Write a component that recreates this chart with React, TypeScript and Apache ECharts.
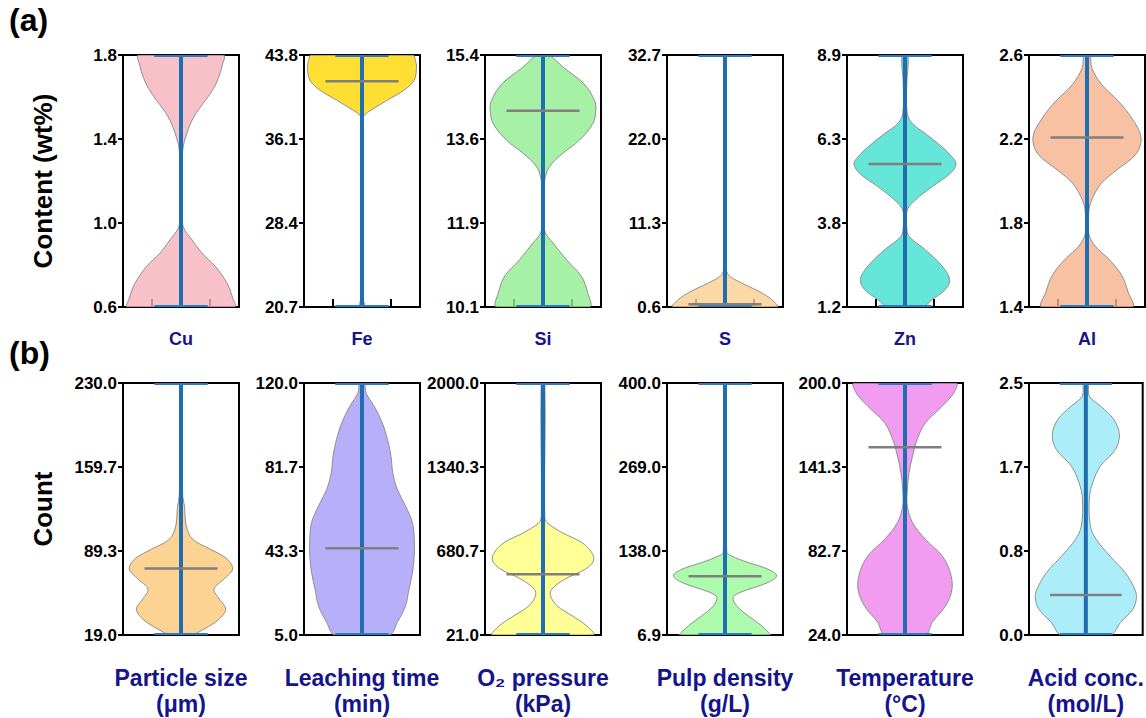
import React, { useEffect, useRef } from 'react';
import * as echarts from 'echarts';

// ---------- data ----------
const rowACategories = ['Cu', 'Fe', 'Si', 'S', 'Zn', 'Al'];
const rowBCategories = [
  'Particle size\n(μm)',
  'Leaching time\n(min)',
  'O₂ pressure\n(kPa)',
  'Pulp density\n(g/L)',
  'Temperature\n(°C)',
  'Acid conc.\n(mol/L)',
];

const axisMins = [0.6, 20.7, 10.1, 0.6, 1.2, 1.4, 19.0, 5.0, 21.0, 6.9, 24.0, 0.0];
const axisMaxs = [1.8, 43.8, 15.4, 32.7, 8.9, 2.6, 230.0, 120.0, 2000.0, 400.0, 200.0, 2.5];

const tickLabels = [
  ['0.6', '1.0', '1.4', '1.8'],
  ['20.7', '28.4', '36.1', '43.8'],
  ['10.1', '11.9', '13.6', '15.4'],
  ['0.6', '11.3', '22.0', '32.7'],
  ['1.2', '3.8', '6.3', '8.9'],
  ['1.4', '1.8', '2.2', '2.6'],
  ['19.0', '89.3', '159.7', '230.0'],
  ['5.0', '43.3', '81.7', '120.0'],
  ['21.0', '680.7', '1340.3', '2000.0'],
  ['6.9', '138.0', '269.0', '400.0'],
  ['24.0', '82.7', '141.3', '200.0'],
  ['0.0', '0.8', '1.7', '2.5'],
];

const medians: (number | null)[] = [null, 41.4, 14.23, 0.94, 5.57, 2.207, 74.7, 44.6, 498.7, 98.7, 155.2, 0.396];

// violin profiles: [value, relative half-width]
const cuProfile = [[0.6, 0.93], [0.636, 0.9], [0.715, 0.79], [0.794, 0.59], [0.857, 0.36], [0.92, 0.19], [0.98, 0.04], [1.05, 0.02], [1.2, 0.02], [1.347, 0.03], [1.426, 0.1], [1.505, 0.22], [1.584, 0.42], [1.64, 0.56], [1.694, 0.65], [1.75, 0.71], [1.8, 0.73]];
const feProfile = [[20.7, 0.05], [21.2, 0.03], [22, 0.02], [30, 0.02], [38.0, 0.02], [38.3, 0.04], [38.76, 0.16], [39.67, 0.44], [40.6, 0.73], [41.5, 0.9], [42.73, 0.94], [43.3, 0.92], [43.8, 0.88]];
const siProfile = [[10.1, 0.8], [10.4, 0.77], [10.75, 0.66], [11.1, 0.4], [11.45, 0.17], [11.66, 0.04], [11.9, 0.02], [12.5, 0.02], [12.77, 0.03], [13.05, 0.11], [13.33, 0.34], [13.61, 0.63], [13.96, 0.86], [14.24, 0.91], [14.44, 0.89], [14.79, 0.71], [15.14, 0.35], [15.4, 0.1]];
const sProfile = [[0.6, 0.9], [1.57, 0.8], [2.41, 0.63], [3.26, 0.4], [4.1, 0.17], [4.7, 0.06], [5.5, 0.02], [32.7, 0.02]];
const znProfile = [[1.2, 0.3], [1.43, 0.47], [1.74, 0.7], [2.04, 0.77], [2.45, 0.64], [2.95, 0.35], [3.36, 0.07], [3.66, 0.03], [4.17, 0.04], [4.47, 0.18], [4.88, 0.47], [5.28, 0.78], [5.57, 0.88], [5.79, 0.81], [6.09, 0.64], [6.5, 0.35], [6.8, 0.13], [7.1, 0.04], [8.0, 0.03], [8.9, 0.05]];
const alProfile = [[1.4, 0.78], [1.47, 0.71], [1.55, 0.6], [1.63, 0.37], [1.69, 0.14], [1.75, 0.03], [1.85, 0.03], [1.91, 0.08], [1.99, 0.25], [2.05, 0.5], [2.13, 0.85], [2.21, 0.93], [2.3, 0.77], [2.38, 0.54], [2.46, 0.25], [2.54, 0.08], [2.6, 0.05]];
const particleProfile = [[19, 0.17], [24, 0.4], [32.4, 0.66], [40.7, 0.77], [49.1, 0.66], [57.4, 0.57], [65.8, 0.74], [74.1, 0.89], [82.5, 0.8], [90.8, 0.51], [99.2, 0.2], [110.3, 0.09], [127, 0.06], [135, 0.03], [160, 0.02], [230, 0.02]];
const leachingProfile = [[5, 0.47], [10.8, 0.61], [18.3, 0.75], [25.9, 0.81], [33.5, 0.87], [41.1, 0.9], [48.7, 0.9], [56.3, 0.87], [63.9, 0.75], [71.4, 0.61], [79, 0.53], [86.6, 0.5], [94.2, 0.44], [101.8, 0.35], [109.4, 0.21], [115.4, 0.07], [120, 0.04]];
const o2Profile = [[21, 0.87], [94, 0.75], [172, 0.5], [251, 0.24], [329, 0.13], [381, 0.15], [460, 0.38], [538, 0.73], [603, 0.87], [668, 0.84], [747, 0.67], [825, 0.33], [903, 0.07], [950, 0.03], [2000, 0.03]];
const pulpProfile = [[6.9, 0.78], [11, 0.75], [21.4, 0.63], [36.9, 0.4], [52.5, 0.2], [65.5, 0.14], [73.3, 0.26], [88.8, 0.74], [99.2, 0.89], [109.6, 0.74], [119.9, 0.4], [130.3, 0.11], [136, 0.03], [400, 0.02]];
const temperatureProfile = [[24, 0.35], [32.8, 0.47], [44.4, 0.7], [56, 0.81], [67.7, 0.78], [79.3, 0.64], [90.9, 0.35], [102.5, 0.13], [114.1, 0.04], [125.7, 0.04], [137.3, 0.07], [148.9, 0.13], [160.5, 0.21], [172.1, 0.35], [183.7, 0.64], [193, 0.84], [200, 0.88]];
const acidProfile = [[0, 0.43], [0.125, 0.61], [0.26, 0.83], [0.37, 0.89], [0.455, 0.86], [0.62, 0.69], [0.78, 0.43], [0.95, 0.18], [1.08, 0.08], [1.35, 0.06], [1.51, 0.12], [1.68, 0.26], [1.84, 0.52], [1.99, 0.59], [2.14, 0.49], [2.27, 0.26], [2.37, 0.06], [2.5, 0.04]];

const profiles = [cuProfile, feProfile, siProfile, sProfile, znProfile, alProfile, particleProfile, leachingProfile, o2Profile, pulpProfile, temperatureProfile, acidProfile];

const fillColors = [
  'rgba(246,176,186,0.8)',
  'rgba(255,215,0,0.8)',
  'rgba(144,238,144,0.8)',
  'rgba(251,206,144,0.8)',
  'rgba(64,224,208,0.8)',
  'rgba(248,178,140,0.8)',
  'rgba(252,200,120,0.8)',
  'rgba(165,155,249,0.8)',
  'rgba(255,255,122,0.8)',
  'rgba(152,251,152,0.8)',
  'rgba(238,130,238,0.8)',
  'rgba(150,234,249,0.8)',
];

// ---------- layout ----------
const gridLefts = [123, 304, 485, 667, 847, 1029];
const gridWidth = 116;
const rowTops = [55, 383];
const rowHeights = [252, 253];

const FONT = "'Liberation Sans', Arial, sans-serif";
const NAVY = '#14148c';
const BLUE = '#1f6eb0';
const CAP_BLUE = '#2a7cc2';

function buildOption() {
  const grid: any[] = [];
  const xAxis: any[] = [];
  const yAxis: any[] = [];
  const series: any[] = [];

  for (let i = 0; i < 12; i++) {
    const row = i < 6 ? 0 : 1;
    const col = i % 6;
    const min = axisMins[i];
    const max = axisMaxs[i];
    const step = (max - min) / 3;
    const tickVals = [min, min + step, min + 2 * step, max];
    const labels = tickLabels[i];

    grid.push({
      left: gridLefts[col],
      top: rowTops[row],
      width: gridWidth,
      height: rowHeights[row],
      show: true,
      borderColor: '#000',
      borderWidth: 2,
      backgroundColor: 'transparent',
    });

    xAxis.push({
      type: 'value',
      gridIndex: i,
      min: -1,
      max: 1,
      position: 'bottom',
      axisLine: { show: false, onZero: false },
      splitLine: { show: false },
      axisLabel: { show: false },
      axisTick: row === 0
        ? { show: true, inside: true, length: 8, customValues: [-0.5, 0.5], lineStyle: { color: '#000', width: 2 } }
        : { show: false },
      name: row === 0 ? rowACategories[col] : rowBCategories[col],
      nameLocation: 'middle',
      nameGap: row === 0 ? 23 : 30,
      nameTextStyle: row === 0
        ? { fontFamily: FONT, fontWeight: 'bold', fontSize: 18, color: NAVY }
        : { fontFamily: FONT, fontWeight: 'bold', fontSize: 23, color: NAVY, lineHeight: 26 },
    });

    yAxis.push({
      type: 'value',
      gridIndex: i,
      min,
      max,
      position: 'left',
      axisLine: { show: true, onZero: false, lineStyle: { color: '#000', width: 2 } },
      splitLine: { show: false },
      axisTick: { show: true, length: 5, customValues: tickVals, lineStyle: { color: '#000', width: 2 } },
      axisLabel: {
        show: true,
        customValues: tickVals,
        margin: 6,
        fontFamily: FONT,
        fontWeight: 'bold',
        fontSize: 17,
        color: '#000',
        formatter: (v: number) => {
          let best = 0;
          for (let k = 1; k < 4; k++) {
            if (Math.abs(tickVals[k] - v) < Math.abs(tickVals[best] - v)) best = k;
          }
          return labels[best];
        },
      },
      name: col === 0 ? (row === 0 ? 'Content (wt%)' : 'Count') : '',
      nameLocation: 'middle',
      nameRotate: 90,
      nameGap: 67,
      nameTextStyle: { fontFamily: FONT, fontWeight: 'bold', fontSize: 26, color: '#000' },
    });

    const profile = profiles[i];
    const med = medians[i];
    const color = fillColors[i];

    series.push({
      type: 'custom',
      xAxisIndex: i,
      yAxisIndex: i,
      clip: true,
      data: [[0, min]],
      renderItem: (_params: any, api: any) => {
        const right = profile.map(([v, w]) => api.coord([w, v]));
        const left = profile.slice().reverse().map(([v, w]) => api.coord([-w, v]));
        const pts = right.concat(left);
        const b = api.coord([0, min]);
        const t = api.coord([0, max]);
        const capL = api.coord([-0.46, min]);
        const capR = api.coord([0.46, min]);
        const capLt = api.coord([-0.46, max]);
        const capRt = api.coord([0.46, max]);
        const children: any[] = [
          {
            type: 'polygon',
            shape: { points: pts, smooth: 0.35 },
            style: { fill: color, stroke: '#8f8f8f', lineWidth: 1 },
          },
          {
            type: 'line',
            shape: { x1: b[0], y1: b[1], x2: t[0], y2: t[1] },
            style: { stroke: BLUE, lineWidth: 4 },
          },
          {
            type: 'line',
            shape: { x1: capL[0], y1: capL[1] - 1, x2: capR[0], y2: capR[1] - 1 },
            style: { stroke: CAP_BLUE, lineWidth: 2 },
          },
          {
            type: 'line',
            shape: { x1: capLt[0], y1: capLt[1] + 1, x2: capRt[0], y2: capRt[1] + 1 },
            style: { stroke: CAP_BLUE, lineWidth: 2 },
          },
        ];
        if (med !== null) {
          const mL = api.coord([-0.63, med]);
          const mR = api.coord([0.63, med]);
          children.push({
            type: 'line',
            shape: { x1: mL[0], y1: mL[1], x2: mR[0], y2: mR[1] },
            style: { stroke: '#7f7f7f', lineWidth: 2.5 },
          });
        }
        return { type: 'group', children };
      },
    });
  }

  return {
    animation: false,
    backgroundColor: '#fff',
    grid,
    xAxis,
    yAxis,
    series,
    graphic: [
      { type: 'text', left: 9, top: 4, style: { text: '(a)', font: `bold 32px ${FONT}`, fill: '#000' } },
      { type: 'text', left: 9, top: 337, style: { text: '(b)', font: `bold 32px ${FONT}`, fill: '#000' } },
    ],
  };
}

export default function App() {
  const ref = useRef<HTMLDivElement>(null);
  useEffect(() => {
    if (!ref.current) return;
    const chart = echarts.init(ref.current, undefined, { renderer: 'svg' });
    chart.setOption(buildOption() as any);
    return () => chart.dispose();
  }, []);
  return (
    <div
      ref={ref}
      style={{ position: 'absolute', left: 0, top: 0, width: 1146, height: 718, background: '#fff' }}
    />
  );
}
